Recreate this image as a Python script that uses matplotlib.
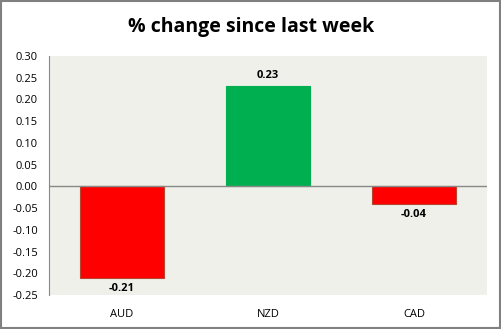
import matplotlib.pyplot as plt

currencies = ["AUD", "NZD", "CAD"]
changes = [-0.21, 0.23, -0.04]
yticks = [-0.25, -0.20, -0.15, -0.10, -0.05, 0.00, 0.05, 0.10, 0.15, 0.20, 0.25, 0.30]

plt.rcParams['font.family'] = ['Open Sans', 'DejaVu Sans']

fig = plt.figure(figsize=(5.02, 3.29), dpi=100)
ax = fig.add_axes([0.0976, 0.1033, 0.8725, 0.7265])
ax.set_facecolor("#EFF0E9")

colors = ["#FF0000" if v < 0 else "#00B050" for v in changes]
edges = ["#B5452F" if v < 0 else "#00B050" for v in changes]
x = range(len(currencies))
ax.bar(x, changes, width=0.57, color=colors, edgecolor=edges, linewidth=0.8, zorder=2)
ax.axhline(0, color="#888888", linewidth=1, zorder=3)

for i, v in enumerate(changes):
    off = 0.012 if v > 0 else -0.012
    ax.text(i, v + off, "%.2f" % v, ha="center", va="bottom" if v > 0 else "top",
            fontsize=8, fontweight="bold")

ax.set_xlim(-0.5, 2.5)
ax.set_ylim(-0.25, 0.30)
ax.set_yticks(yticks)
ax.set_yticklabels(["%.2f" % t for t in yticks], fontsize=8)
ax.set_xticks(list(x))
ax.set_xticklabels(currencies, fontsize=8)
ax.tick_params(axis="both", length=0, pad=8)
ax.tick_params(axis="x", pad=10)
for s in ["top", "right", "bottom"]:
    ax.spines[s].set_visible(False)
ax.spines["left"].set_color("#888888")

fig.text(0.5, 0.918, "% change since last week", ha="center", va="center",
         fontsize=14, fontweight="bold")

border = plt.Rectangle((0.002, 0.003), 0.995, 0.994, transform=fig.transFigure,
                       fill=False, edgecolor="#808080", linewidth=1.5)
fig.patches.append(border)

fig.savefig("out.png", dpi=100)
